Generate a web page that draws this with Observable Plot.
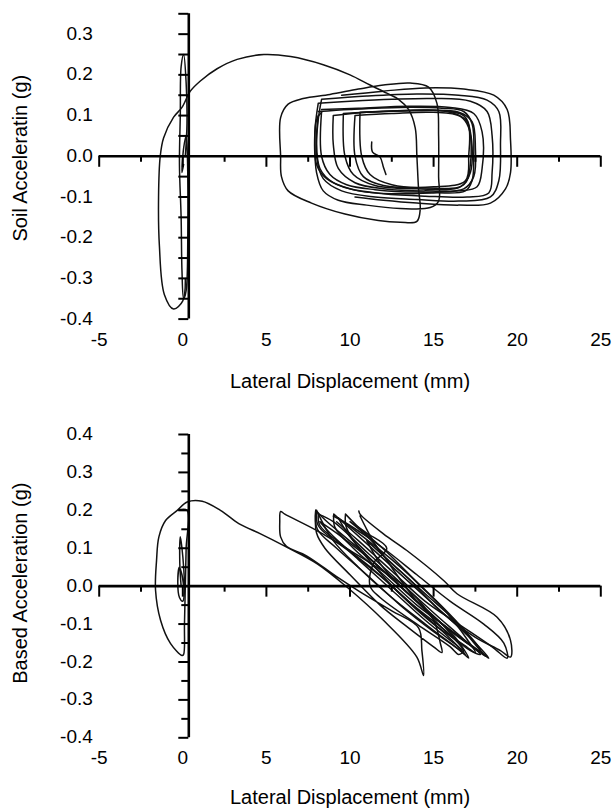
<!DOCTYPE html>
<html>
<head>
<meta charset="utf-8">
<script src="https://cdn.jsdelivr.net/npm/d3@7"></script>
<script src="https://cdn.jsdelivr.net/npm/@observablehq/plot@0.6"></script>
<style>
  body { margin: 0; background: #fff; }
  #charts svg { display: block; }
</style>
</head>
<body>
<div id="charts"></div>
<script>
// ---------- axes / ticks ----------
const xMajorTicks = [-5, 0, 5, 10, 15, 20, 25];
const xMinorTicks = [-2.5, 2.5, 7.5, 12.5, 17.5, 22.5];
const xLabels = [-5, 0, 5, 10, 15, 20, 25];
const xTitle = "Lateral Displacement (mm)";

const soilYTicks = [-0.4, -0.35, -0.3, -0.25, -0.2, -0.15, -0.1, -0.05, 0, 0.05, 0.1, 0.15, 0.2, 0.25, 0.3, 0.35];
const soilYLabels = [-0.4, -0.3, -0.2, -0.1, 0, 0.1, 0.2, 0.3];
const soilTitle = "Soil Acceleratin (g)";

const baseYMajor = [-0.4, -0.3, -0.2, -0.1, 0, 0.1, 0.2, 0.3, 0.4];
const baseYMinor = [-0.35, -0.25, -0.15, -0.05, 0.05, 0.15, 0.25, 0.35];
const baseYLabels = [-0.4, -0.3, -0.2, -0.1, 0, 0.1, 0.2, 0.3, 0.4];
const baseTitle = "Based Acceleration (g)";

// ---------- soil acceleration loops (x mm, y g) ----------
const soilNearZero = [[0.15,0.0],[0.25,0.08],[0.2,0.18],[0.05,0.25],[-0.1,0.22],[-0.15,0.1],[-0.2,-0.02],[-0.1,-0.15],[-0.05,-0.28],[0.05,-0.35],[0.2,-0.33],[0.3,-0.2],[0.3,-0.05],[0.2,0.05],[0.05,0.02],[-0.05,-0.04],[0.05,-0.02]];
const soilLeftArc = [[0.15,-0.3],[0.0,-0.355],[-0.55,-0.375],[-1.1,-0.34],[-1.4,-0.22],[-1.45,-0.1],[-1.35,0.0],[-1.15,0.045],[-0.55,0.096],[-0.05,0.12],[0.45,0.16],[1.05,0.185],[2.05,0.215],[3.25,0.238],[4.85,0.25],[6.45,0.245],[8.4,0.225],[10.0,0.2],[11.2,0.175],[12.2,0.155],[12.9,0.14],[13.5,0.115],[13.9,0.07],[14.0,0.0],[14.1,-0.08],[14.2,-0.13],[14.0,-0.16],[13.0,-0.162],[11.7,-0.158],[9.7,-0.142],[7.7,-0.115],[6.3,-0.085],[5.9,-0.05],[5.85,0.0],[5.85,0.095],[6.3,0.128],[7.2,0.142],[8.8,0.152],[10.5,0.165],[12.0,0.175],[13.6,0.18],[14.7,0.17],[15.2,0.13],[15.3,0.05],[15.3,-0.05],[15.3,-0.11],[14.8,-0.126],[13.0,-0.128],[11.0,-0.12],[9.3,-0.108],[8.4,-0.085],[8.0,-0.04],[7.9,0.03],[8.0,0.09],[8.3,0.108]];
const soilLoop1 = [[8.1,0.11],[10,0.115],[13,0.12],[15.5,0.118],[16.8,0.11],[17.3,0.08],[17.4,0.0],[17.3,-0.06],[16.9,-0.085],[15,-0.09],[12.5,-0.092],[10.5,-0.085],[9.0,-0.065],[8.2,-0.03],[8.0,0.04],[8.1,0.1]];
const soilLoop2 = [[8.3,0.115],[10.5,0.118],[13.5,0.123],[16,0.12],[17.4,0.105],[17.9,0.06],[17.9,-0.03],[17.6,-0.075],[16.5,-0.085],[14,-0.088],[11.5,-0.082],[9.8,-0.07],[8.8,-0.045],[8.3,0.0],[8.3,0.11]];
const soilLoop3 = [[9.0,0.1],[11,0.108],[14,0.112],[16.5,0.108],[17.3,0.085],[17.5,0.02],[17.4,-0.05],[16.8,-0.08],[14.5,-0.085],[12,-0.08],[10.3,-0.065],[9.3,-0.03],[9.0,0.03],[9.0,0.1]];
const soilLoop4 = [[9.6,0.105],[12,0.11],[15,0.113],[16.8,0.1],[17.2,0.06],[17.2,-0.04],[16.6,-0.075],[14,-0.08],[11.5,-0.072],[10.2,-0.045],[9.7,0.0],[9.6,0.1]];
const soilLoop5 = [[10.6,0.108],[13,0.112],[15.8,0.11],[17.0,0.085],[17.1,0.0],[16.9,-0.06],[15,-0.075],[12.5,-0.07],[11.2,-0.045],[10.7,0.0],[10.6,0.108]];
const soilLoop6 = [[8.1,0.13],[10,0.135],[12.5,0.14],[15,0.142],[17.2,0.135],[18.2,0.11],[18.5,0.05],[18.5,-0.04],[18.3,-0.09],[17.0,-0.1],[14.5,-0.098],[12,-0.092],[10,-0.08],[8.6,-0.055],[8.0,-0.02],[7.9,0.06],[8.1,0.13]];
const soilLoop7 = [[8.3,0.14],[11,0.148],[14,0.153],[16.5,0.15],[18.2,0.138],[18.9,0.11],[19.0,0.03],[18.9,-0.06],[18.4,-0.1],[16.5,-0.11],[14,-0.106],[11.5,-0.1],[9.5,-0.085],[8.4,-0.055],[8.0,0.0],[8.1,0.09],[8.3,0.14]];
const soilLoop8 = [[9.5,0.15],[12,0.16],[14.5,0.168],[16.8,0.165],[18.6,0.15],[19.4,0.115],[19.6,0.04],[19.6,-0.04],[19.3,-0.08],[18.4,-0.115],[16.5,-0.12],[14,-0.115],[12,-0.108],[10.3,-0.1]];
const soilLoop9 = [[10.3,0.1],[12.5,0.105],[15,0.108],[16.6,0.098],[17.1,0.07],[17.2,-0.02],[16.8,-0.07],[14.5,-0.078],[12,-0.072],[10.8,-0.05],[10.3,0.0],[10.3,0.1]];
const soilHook = [[11.3,0.035],[11.35,0.01],[11.8,-0.002],[12.0,-0.027],[12.15,-0.045]];

// ---------- base acceleration loops (x mm, y g) ----------
const baseNearZero = [[-0.1,0.0],[-0.18,0.06],[-0.15,0.13],[-0.05,0.1],[0.05,0.05],[0.1,-0.01],[0.0,-0.04],[-0.2,-0.03],[-0.3,0.01],[-0.2,0.05],[-0.05,0.03],[0.05,0.0]];
const baseLeftArc = [[-0.3,0.2],[0.25,0.2],[0.2,0.1],[0.15,0.0],[0.1,-0.1],[0.05,-0.18],[-0.04,-0.183],[-0.74,-0.151],[-1.33,-0.09],[-1.63,-0.011],[-1.57,0.068],[-1.43,0.13],[-1.03,0.173],[-0.33,0.2],[0.26,0.222],[1.16,0.224],[2.25,0.2],[3.35,0.165],[4.65,0.138],[6.04,0.107],[8.04,0.059],[9.83,-0.003],[12.0,-0.09],[14.0,-0.187],[14.4,-0.236],[14.3,-0.17],[14.1,-0.11],[12.5,-0.065],[10.6,-0.015],[9.2,0.025],[7.4,0.08],[6.2,0.105],[5.85,0.13],[5.8,0.17],[5.85,0.197],[6.1,0.19],[8.0,0.147],[10.0,0.094],[11.6,0.05],[13.5,-0.01],[15.0,-0.09],[15.4,-0.15],[15.5,-0.175],[15.0,-0.16],[13.5,-0.11],[11.8,-0.05],[10.0,0.03],[8.5,0.1],[8.0,0.14],[7.95,0.2]];
const baseLeaf1 = [[7.95,0.2],[8.5,0.175],[10.5,0.1],[12.5,0.02],[14.5,-0.06],[16.2,-0.13],[17.1,-0.19],[16.6,-0.17],[15.0,-0.12],[13.0,-0.05],[11.0,0.03],[9.2,0.1],[8.05,0.15],[7.95,0.2]];
const baseLeaf2 = [[8.1,0.19],[9.0,0.17],[11.0,0.09],[13.0,0.01],[15.0,-0.07],[16.8,-0.14],[17.8,-0.18],[17.2,-0.17],[15.5,-0.11],[13.5,-0.04],[11.5,0.04],[9.5,0.11],[8.2,0.16],[8.1,0.19]];
const baseLeaf3 = [[9.03,0.19],[9.8,0.16],[11.8,0.08],[13.8,0.0],[15.8,-0.08],[17.5,-0.15],[18.3,-0.19],[17.7,-0.17],[16.0,-0.115],[14.0,-0.05],[12.0,0.03],[10.2,0.1],[9.1,0.155],[9.03,0.19]];
const baseLeaf4 = [[9.73,0.19],[10.4,0.16],[12.2,0.09],[14.0,0.01],[15.8,-0.07],[17.0,-0.14],[17.5,-0.175],[16.8,-0.155],[15.0,-0.1],[13.2,-0.03],[11.5,0.05],[10.2,0.12],[9.75,0.16],[9.73,0.19]];
const baseLeaf5 = [[10.53,0.198],[10.6,0.19],[12.0,0.138],[13.4,0.094],[15.6,0.015],[16.4,-0.02],[18.8,-0.082],[19.6,-0.143],[19.6,-0.187],[19.0,-0.17],[17.5,-0.135],[15.5,-0.07],[13.5,0.02],[11.8,0.09],[11.0,0.15],[10.6,0.185]];
const baseLeaf6 = [[9.0,0.185],[10.0,0.16],[12.0,0.1],[14.0,0.03],[16.0,-0.04],[18.0,-0.1],[19.2,-0.15],[19.4,-0.19],[18.5,-0.16],[16.5,-0.1],[14.5,-0.04],[12.5,0.04],[10.5,0.12],[9.2,0.17]];
const baseLeaf7 = [[8.2,0.17],[9.5,0.13],[11.5,0.06],[13.5,-0.02],[15.5,-0.1],[16.8,-0.17],[16.2,-0.15],[14.5,-0.09],[12.5,-0.01],[10.5,0.07],[8.8,0.14],[8.2,0.17]];
const baseLeaf8 = [[10.0,0.17],[11.0,0.14],[12.2,0.1],[11.4,0.06],[11.2,0.0],[11.8,-0.03],[14.0,-0.1],[16.0,-0.16],[16.5,-0.18],[16.8,-0.17],[15.5,-0.11],[14.0,-0.04],[12.8,0.03],[11.5,0.11],[10.0,0.17]];
const baseLeaf9 = [[8.0,0.2],[8.1,0.16],[10.0,0.09],[12.0,0.02],[14.0,-0.06],[15.8,-0.13],[16.9,-0.18],[16.3,-0.16],[14.5,-0.1],[12.5,-0.03],[10.5,0.05],[9.0,0.12],[8.0,0.2]];
const baseLeaf10 = [[9.3,0.18],[10.5,0.14],[12.5,0.07],[14.5,-0.01],[16.3,-0.09],[17.6,-0.16],[18.1,-0.185],[17.3,-0.16],[15.5,-0.1],[13.5,-0.02],[11.5,0.06],[10.0,0.13],[9.3,0.18]];
const baseLeaf11 = [[11.0,0.12],[12.5,0.06],[14.5,-0.02],[16.5,-0.1],[17.8,-0.17],[17.0,-0.15],[15.0,-0.08],[13.0,0.0],[11.8,0.06],[11.0,0.12]];

const soilPieces = [soilNearZero, soilLeftArc, soilLoop1, soilLoop2, soilLoop3, soilLoop4, soilLoop5, soilLoop6, soilLoop7, soilLoop8, soilLoop9, soilHook];
const basePieces = [baseNearZero, baseLeftArc, baseLeaf1, baseLeaf2, baseLeaf3, baseLeaf4, baseLeaf5, baseLeaf6, baseLeaf7, baseLeaf8, baseLeaf9, baseLeaf10, baseLeaf11];

const FONT = "'Liberation Sans', Arial, Helvetica, sans-serif";

function chart(o) {
  const pts = o.pieces.flatMap((p, k) => p.map(([x, y]) => ({x, y, k})));
  const y0 = o.yDomain[0];
  return Plot.plot({
    width: 616,
    height: o.height,
    marginLeft: 98.7,
    marginRight: 15.7,
    marginTop: o.marginTop,
    marginBottom: o.marginBottom,
    x: {domain: [-5, 25], axis: null},
    y: {domain: o.yDomain, axis: null},
    style: {fontFamily: FONT, background: "#fff", color: "#000", overflow: "visible"},
    marks: [
      Plot.line(pts, {x: "x", y: "y", z: "k", stroke: "#111", strokeWidth: 1.5, curve: "catmull-rom"}),
      Plot.ruleY([0], {x1: -5, x2: 25, stroke: "#000", strokeWidth: 2.6}),
      Plot.ruleX([0], {y1: o.yDomain[0], y2: o.yDomain[1], dx: 6, stroke: "#000", strokeWidth: 2.6}),
      Plot.ruleX(xMajorTicks, {x: d => d, y1: 0, y2: 0, insetBottom: -11, stroke: "#000", strokeWidth: 2}),
      Plot.ruleX(xMinorTicks, {x: d => d, y1: 0, y2: 0, insetBottom: -6, stroke: "#000", strokeWidth: 2}),
      Plot.ruleY(o.yMajor, {y: d => d, x1: 0, x2: 0, insetLeft: -10, dx: 6, stroke: "#000", strokeWidth: 2}),
      Plot.ruleY(o.yMinor, {y: d => d, x1: 0, x2: 0, insetLeft: o.minorLen, dx: 6, stroke: "#000", strokeWidth: 2}),
      Plot.text(o.yLabels, {x: -5, y: d => d, text: d => d.toFixed(1), textAnchor: "end", dx: -6.4, dy: -0.5, fontSize: 19, fill: "#000"}),
      Plot.text(xLabels, {x: d => d, y: y0, text: d => String(d), dy: o.labelDy, fontSize: 19, fill: "#000"}),
      Plot.text([xTitle], {frameAnchor: "bottom", textAnchor: "middle", lineAnchor: "middle", dy: o.titleDy, fontSize: 20, fill: "#000"}),
      Plot.text([o.yTitle], {frameAnchor: "left", textAnchor: "middle", lineAnchor: "middle", rotate: -90, dx: -79, dy: o.yTitleDy, fontSize: 20, fill: "#000"})
    ]
  });
}

const soilChart = chart({
  pieces: soilPieces,
  yDomain: [-0.4, 0.35],
  yMajor: soilYTicks, yMinor: [], minorLen: -10,
  yLabels: soilYLabels,
  yTitle: soilTitle,
  height: 400, marginTop: 13.3, marginBottom: 81.4,
  labelDy: 20.4, titleDy: 62.3, yTitleDy: -8.3
});
const baseChart = chart({
  pieces: basePieces,
  yDomain: [-0.4, 0.4],
  yMajor: baseYMajor, yMinor: baseYMinor, minorLen: -7,
  yLabels: baseYLabels,
  yTitle: baseTitle,
  height: 408, marginTop: 34, marginBottom: 70.7,
  labelDy: 20.2, titleDy: 59.6, yTitleDy: -3
});
document.getElementById("charts").append(soilChart, baseChart);
</script>
</body>
</html>
